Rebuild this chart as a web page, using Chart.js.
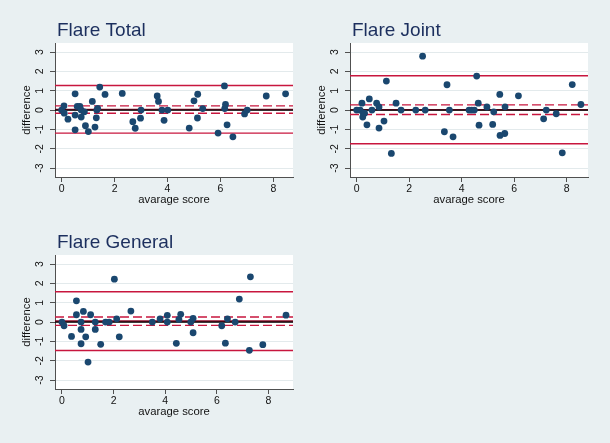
<!DOCTYPE html>
<html><head><meta charset="utf-8">
<script src="https://cdn.jsdelivr.net/npm/chart.js@4"></script>
<style>
html,body{margin:0;padding:0;background:#e9f0f2;width:610px;height:443px;overflow:hidden;}
canvas{position:absolute;display:block;}
</style></head><body>
<canvas id="c1" width="305" height="215" style="left:0;top:0"></canvas>
<canvas id="c2" width="305" height="215" style="left:295px;top:0"></canvas>
<canvas id="c3" width="305" height="215" style="left:0;top:212px"></canvas>
<script>
// ---- data ----
const xTicks = [0, 2, 4, 6, 8];
const yTicks = [-3, -2, -1, 0, 1, 2, 3];

const totalX = [0, 0.09, 0.1, 0.24, 0.51, 0.51, 0.51, 0.59, 0.69, 0.74, 0.74, 0.86, 0.9, 1.01, 1.16, 1.26, 1.31, 1.33, 1.36, 1.44, 1.64, 2.29, 2.69, 2.78, 2.98, 3.0, 3.61, 3.66, 3.79, 3.87, 4.01, 4.82, 5.0, 5.14, 5.13, 5.33, 5.91, 6.15, 6.19, 6.16, 6.25, 6.47, 6.91, 7.01, 7.73, 8.46];
const totalY = [0, 0.22, -0.16, -0.47, 0.84, -0.26, -1.02, 0.19, 0.19, 0, -0.36, -0.09, -0.81, -1.11, 0.45, -0.88, -0.4, 0, 0.09, 1.19, 0.81, 0.86, -0.6, -0.94, -0.42, 0, 0.73, 0.45, 0, -0.53, 0, -0.93, 0.48, 0.82, -0.41, 0.08, -1.19, 1.25, 0.29, 0.08, -0.76, -1.38, -0.2, 0, 0.73, 0.84];
const totalLimits = [-1.19, -0.16, 0.03, 0.22, 1.27]; // lower LoA, CI low, mean, CI high, upper LoA

const jointX = [0, 0.13, 0.2, 0.25, 0.23, 0.3, 0.39, 0.48, 0.58, 0.76, 0.85, 0.85, 1.04, 1.13, 1.32, 1.5, 1.69, 2.25, 2.51, 2.61, 3.34, 3.44, 3.53, 3.67, 4.28, 4.38, 4.48, 4.57, 4.63, 4.66, 4.96, 5.22, 5.18, 5.45, 5.46, 5.64, 5.65, 6.16, 7.12, 7.22, 7.6, 7.83, 8.21, 8.54];
const jointY = [0, 0, 0.36, -0.16, -0.36, -0.16, -0.76, 0.58, 0, 0.36, 0.16, -0.93, -0.57, 1.5, -2.24, 0.36, 0, 0, 2.79, 0, -1.12, 1.31, 0, -1.38, 0, 0, 0, 1.76, 0.36, -0.78, 0.16, -0.09, -0.74, 0.81, -1.31, -1.21, 0.17, 0.74, -0.45, 0, -0.19, -2.21, 1.32, 0.29];
const jointLimits = [-1.74, -0.23, 0.02, 0.27, 1.78];

const generalX = [0, 0.08, 0.37, 0.56, 0.56, 0.74, 0.74, 0.74, 0.83, 0.92, 1.01, 1.11, 1.29, 1.29, 1.5, 1.69, 1.83, 2.03, 2.12, 2.22, 2.67, 3.5, 3.8, 4.08, 4.08, 4.43, 4.53, 4.6, 4.99, 5.08, 5.08, 6.19, 6.33, 6.41, 6.71, 6.87, 7.26, 7.3, 7.78, 8.68];
const generalY = [0, -0.19, -0.74, 1.1, 0.38, 0, -0.38, -1.12, 0.55, -0.76, -2.07, 0.38, 0, -0.38, -1.15, 0, 0, 2.22, 0.17, -0.76, 0.57, 0, 0.17, 0, 0.35, -1.1, 0.14, 0.4, 0, 0.19, -0.55, -0.19, -1.09, 0.17, 0, 1.19, -1.46, 2.34, -1.17, 0.36];
const generalLimits = [-1.47, -0.17, 0.05, 0.26, 1.57];

// ---- styling ----
const FONT = '"Liberation Sans", Arial, Helvetica, sans-serif';
const NAVY = '#1a476f';
const RED = '#c8163e';
const AXIS = '#505050';

const bgPlugin = {
  id: 'bgPanel',
  beforeDraw(chart, args, opts) {
    const {ctx, chartArea: a} = chart;
    ctx.save();
    ctx.fillStyle = '#e9f0f2';
    ctx.fillRect(0, 0, chart.width, chart.height);
    ctx.fillStyle = '#ffffff';
    ctx.fillRect(a.left, a.top, a.right - a.left, a.bottom - a.top);
    ctx.restore();
  },
  afterDraw(chart, args, opts) {
    const ctx = chart.ctx;
    ctx.save();
    ctx.fillStyle = '#1c2f5e';
    ctx.font = '19px ' + FONT;
    ctx.textBaseline = 'alphabetic';
    ctx.textAlign = 'left';
    ctx.fillText(opts.text, 57, 36);
    ctx.restore();
  }
};

function hline(y, xmin, xmax, color, width, dash) {
  return {
    type: 'line',
    data: [{x: xmin, y: y}, {x: xmax, y: y}],
    borderColor: color,
    borderWidth: width,
    borderDash: dash || [],
    pointRadius: 0,
    showLine: true,
    fill: false,
    order: 2
  };
}

function makePanel(id, title, xs, ys, lim, xmin, xmax) {
  const pts = xs.map((x, i) => ({x: x, y: ys[i]}));
  new Chart(document.getElementById(id), {
    type: 'scatter',
    data: {
      datasets: [
        {data: pts, backgroundColor: NAVY, borderColor: NAVY, borderWidth: 0, pointRadius: 3.4, order: 0},
        hline(lim[0], xmin, xmax, RED, 1.4),
        hline(lim[4], xmin, xmax, RED, 1.4),
        hline(lim[1], xmin, xmax, RED, 1.4, [9, 4]),
        hline(lim[3], xmin, xmax, RED, 1.4, [9, 4]),
        hline(0, xmin, xmax, '#000000', 1.4),
        hline(lim[2], xmin, xmax, '#8a0f2a', 1.6)
      ]
    },
    options: {
      responsive: false,
      animation: false,
      layout: {padding: {top: 43, right: 12, left: 0, bottom: 0}},
      plugins: {
        legend: {display: false},
        tooltip: {enabled: false},
        bgPanel: {text: title}
      },
      scales: {
        x: {
          type: 'linear', min: xmin, max: xmax,
          afterBuildTicks: s => { s.ticks = xTicks.map(v => ({value: v})); },
          afterFit: s => { s.height = 38; },
          grid: {drawOnChartArea: false, drawTicks: true, tickLength: 5, tickColor: AXIS},
          border: {display: true, color: AXIS, width: 1},
          ticks: {padding: 1, maxRotation: 0, color: '#111', font: {family: FONT, size: 10.5}},
          title: {display: true, text: 'avarage score', color: '#111', font: {family: FONT, size: 11.3}, padding: {top: 0, bottom: 8.4}}
        },
        y: {
          type: 'linear', min: -3.46, max: 3.47,
          afterBuildTicks: s => { s.ticks = yTicks.map(v => ({value: v})); },
          afterFit: s => { s.width = 55; },
          grid: {color: '#e3eaec', lineWidth: 1, drawTicks: true, tickLength: 5, tickColor: AXIS},
          border: {display: true, color: AXIS, width: 1},
          ticks: {minRotation: 90, maxRotation: 90, crossAlign: 'center', padding: 5, color: '#111', font: {family: FONT, size: 10.5}},
          title: {display: true, text: 'difference', color: '#111', font: {family: FONT, size: 11.3}, padding: {top: 20.2, bottom: 0}}
        }
      }
    },
    plugins: [bgPlugin]
  });
}

makePanel('c1', 'Flare Total', totalX, totalY, totalLimits, -0.25, 8.74);
makePanel('c2', 'Flare Joint', jointX, jointY, jointLimits, -0.255, 8.81);
makePanel('c3', 'Flare General', generalX, generalY, generalLimits, -0.27, 8.95);
</script>
</body></html>
